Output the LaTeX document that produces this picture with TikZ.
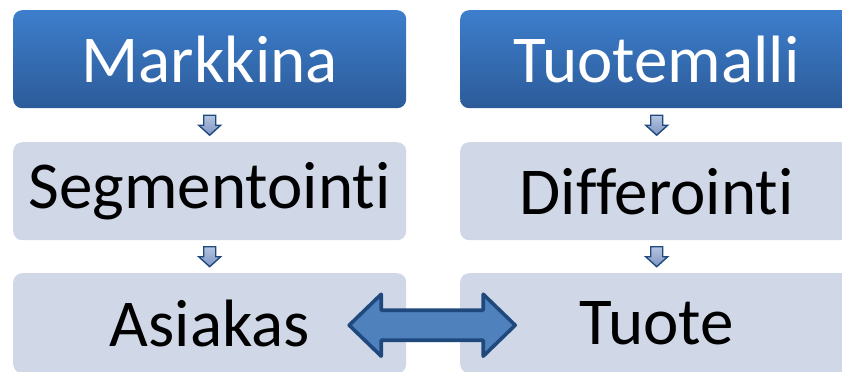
\documentclass[tikz,border=0pt]{standalone}
\usepackage{fontspec}
\setmainfont{Carlito}[Ligatures={NoCommon}]
\usetikzlibrary{calc}
\definecolor{topA}{HTML}{3D7ECC}
\definecolor{topB}{HTML}{2C5B99}
\definecolor{boxfill}{HTML}{D0D8E8}
\definecolor{arrowline}{HTML}{1F497D}
\definecolor{arrowfill}{HTML}{4F81BD}
\definecolor{smallA}{HTML}{B4C4E0}
\definecolor{smallB}{HTML}{7F96C2}
\begin{document}
\begin{tikzpicture}[x=1bp,y=-1bp,
  basebox/.style={rectangle, rounded corners=9bp, minimum width=393bp, minimum height=98bp, inner sep=0pt,
    font=\fontsize{67bp}{80bp}\selectfont, anchor=north west},
  headbox/.style={basebox, top color=topA, bottom color=topB, text=white},
  stepbox/.style={basebox, fill=boxfill, text=black},
  smallarrow/.style={draw=arrowline, line width=1.4bp, line join=miter, top color=smallA, bottom color=smallB},
  bigarrow/.style={draw=arrowline, line width=3.6bp, line join=round, fill=arrowfill}]
\useasboundingbox (0,0) rectangle (842,371);
\clip (0,0) rectangle (842,371);
\node[headbox] (markkina) at (13,10) {Markkina};
\node[headbox] (tuotemalli) at (460,10) {Tuotemalli};
\node[stepbox] (segment) at (13,142) {Segmentointi};
\node[stepbox] (differ) at (460,142) {Differointi};
\node[stepbox, minimum height=100bp] (asiakas) at (13,273) {\raisebox{-1bp}{Asiakas}};
\node[stepbox, minimum height=100bp] (tuote) at (460,273) {\raisebox{-1bp}{Tuote}};
% small down arrows
\foreach \a/\b/\n in {markkina/segment/d1, tuotemalli/differ/d2, segment/asiakas/d3, differ/tuote/d4}{
  \coordinate (\n) at ($(\a.south)!0.5!(\b.north)$);
  \draw[smallarrow] ($(\n)+(-6,-10)$) -- ($(\n)+(6,-10)$) -- ($(\n)+(6,0)$) -- ($(\n)+(11,0)$)
     -- ($(\n)+(0,10)$) -- ($(\n)+(-11,0)$) -- ($(\n)+(-6,0)$) -- cycle;
}
% double arrow
\coordinate (m) at ($(asiakas.east)!0.5!(tuote.west)+(-1,2)$);
\draw[bigarrow] ($(m)+(-83,0)$) -- ($(m)+(-51,-31)$) -- ($(m)+(-51,-15)$) -- ($(m)+(51,-15)$)
  -- ($(m)+(51,-31)$) -- ($(m)+(83,0)$) -- ($(m)+(51,31)$) -- ($(m)+(51,15)$) -- ($(m)+(-51,15)$)
  -- ($(m)+(-51,31)$) -- cycle;
\end{tikzpicture}
\end{document}
